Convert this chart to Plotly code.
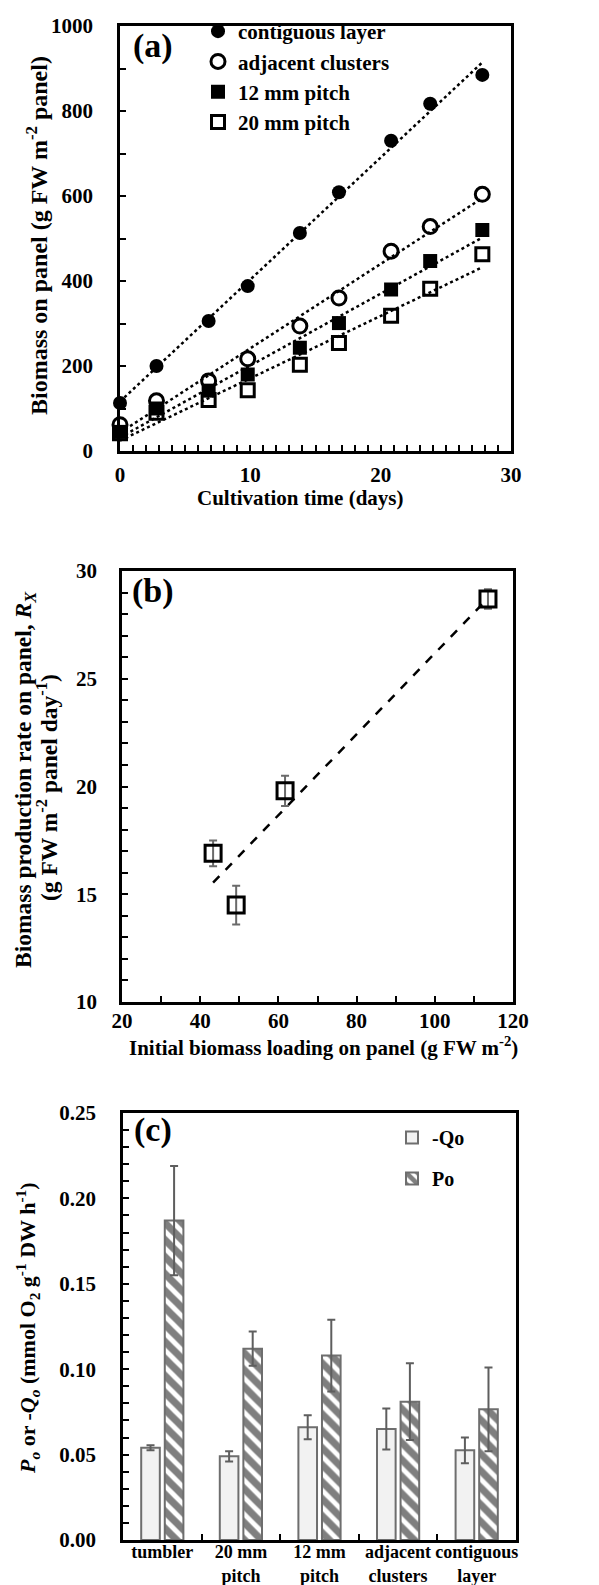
import numpy as np
import plotly.graph_objects as go

# ---------------- data ----------------
# (a) biomass on panel vs cultivation time
days = [0, 2.8, 6.8, 9.8, 13.8, 16.8, 20.8, 23.8, 27.8]
contiguous = [113, 200, 306, 388, 513, 609, 730, 817, 885]
adjacent = [62, 118, 165, 217, 294, 360, 470, 528, 604]
pitch12 = [45, 100, 142, 180, 243, 301, 380, 447, 520]
pitch20 = [42, 90, 120, 143, 203, 254, 318, 382, 463]
series_names = ["contiguous layer", "adjacent clusters", "12 mm pitch", "20 mm pitch"]

# (b) production rate vs initial loading
loading = [43.3, 49.2, 61.7, 113.6]
rate = [16.9, 14.5, 19.8, 28.7]
rate_err = [0.6, 0.9, 0.7, 0.45]

# (c) Po / -Qo bars
cats = ["tumbler", "20 mm<br>pitch", "12 mm<br>pitch", "adjacent<br>clusters", "contiguous<br>layer"]
qo = [0.054, 0.049, 0.066, 0.065, 0.0525]
qo_err = [0.0015, 0.003, 0.007, 0.012, 0.0075]
po = [0.187, 0.112, 0.108, 0.081, 0.0765]
po_err = [0.032, 0.010, 0.021, 0.0225, 0.0245]

W, H = 599, 1585
FONT = "Liberation Serif"

def px_x(a, b):
    return [a / W, b / W]

def px_y(top, bottom):
    return [1 - bottom / H, 1 - top / H]

def f(size):
    return dict(family=FONT, size=size, color="black", weight="bold")

fig = go.Figure()

# ---------------- panel (a) ----------------
styles = [
    dict(symbol="circle", size=14, color="black", line=dict(width=0)),
    dict(symbol="circle-open", size=14, color="black", line=dict(width=3)),
    dict(symbol="square", size=14, color="black", line=dict(width=0)),
    dict(symbol="square-open", size=13, color="black", line=dict(width=3)),
]
all_series = [contiguous, adjacent, pitch12, pitch20]
for name, ys, st in zip(series_names, all_series, styles):
    k, b0 = np.polyfit(days, ys, 1)
    xf = np.array([min(days), max(days)])
    fig.add_trace(go.Scatter(x=xf, y=k * xf + b0, mode="lines",
                             line=dict(color="black", width=2.5, dash="dot"),
                             showlegend=False, xaxis="x", yaxis="y", hoverinfo="skip"))
for name, ys, st in zip(series_names, all_series, styles):
    fig.add_trace(go.Scatter(x=days, y=ys, mode="markers", name=name, marker=st,
                             cliponaxis=False, xaxis="x", yaxis="y",
                             legend="legend", legendgroup=name))

# ---------------- panel (b) ----------------
kb, bb = np.polyfit(loading, rate, 1)
xb = np.array([min(loading), max(loading)])
fig.add_trace(go.Scatter(x=xb, y=kb * xb + bb, mode="lines",
                         line=dict(color="black", width=2.5, dash="dash"),
                         showlegend=False, xaxis="x2", yaxis="y2"))
fig.add_trace(go.Scatter(x=loading, y=rate, mode="markers",
                         marker=dict(symbol="square-open", size=16, color="black", line=dict(width=3)),
                         error_y=dict(type="data", array=rate_err, color="#6a6a6a", thickness=2, width=4),
                         showlegend=False, cliponaxis=False, xaxis="x2", yaxis="y2"))

# ---------------- panel (c) ----------------
fig.add_trace(go.Bar(x=cats, y=qo, name="-Qo",
                     marker=dict(color="#f2f2f2", line=dict(color="#6e6e6e", width=2)),
                     error_y=dict(type="data", array=qo_err, color="#5e5e5e", thickness=2, width=4),
                     xaxis="x3", yaxis="y3", legend="legend2", legendgroup="q"))
fig.add_trace(go.Bar(x=cats, y=po, name="Po",
                     marker=dict(color="white", line=dict(color="#6e6e6e", width=2),
                                 pattern=dict(shape="\\", fgcolor="black", bgcolor="white",
                                              size=12, solidity=0.6)),
                     error_y=dict(type="data", array=po_err, color="#5e5e5e", thickness=2, width=4),
                     xaxis="x3", yaxis="y3", legend="legend2", legendgroup="p"))

axis_common = dict(showline=True, linecolor="black", linewidth=2.5, mirror=True,
                   ticks="inside", ticklen=6, tickwidth=2, tickcolor="black",
                   showgrid=False, zeroline=False, automargin=False,
                   tickfont=f(21))

def minor(d):
    return dict(ticks="inside", ticklen=6, tickwidth=2, tickcolor="black", dtick=d, showgrid=False)

fig.update_layout(
    width=W, height=H,
    margin=dict(l=0, r=0, t=0, b=0),
    paper_bgcolor="white", plot_bgcolor="white",
    font=f(20),
    bargap=0.40, bargroupgap=0.21, barmode="group",
    xaxis=dict(axis_common, domain=px_x(112, 503), anchor="y", range=[0, 30], dtick=10,
               minor=minor(1), ticklabelstandoff=3),
    yaxis=dict(axis_common, domain=px_y(18, 443), anchor="x", range=[0, 1000], dtick=200,
               minor=minor(100), ticklabelstandoff=20),
    xaxis2=dict(axis_common, domain=px_x(114, 505), anchor="y2", range=[20, 120], dtick=20,
                minor=minor(10), ticklabelstandoff=-2),
    yaxis2=dict(axis_common, domain=px_y(563, 994), anchor="x2", range=[10, 30], dtick=5,
                minor=minor(1), ticklabelstandoff=18),
    xaxis3=dict(axis_common, domain=px_x(115, 508), anchor="y3", tickson="boundaries",
                ticklabelstandoff=-6, tickangle=0, tickfont=f(18)),
    yaxis3=dict(axis_common, domain=px_y(1105, 1532), anchor="x3", range=[0, 0.25], dtick=0.05,
                tickformat=".2f", minor=minor(0.01), ticklabelstandoff=20),
    legend=dict(x=190 / W, y=1 - 3 / H, xanchor="left", yanchor="top",
                bgcolor="rgba(0,0,0,0)", tracegroupgap=0, font=f(21)),
    legend2=dict(x=384 / W, y=1 - 1110 / H, xanchor="left", yanchor="top",
                 bgcolor="rgba(0,0,0,0)", tracegroupgap=12, font=f(20)),
)

texts = [
    dict(text="Biomass on panel (g FW m<sup>-2</sup> panel)", x=29, y=228, textangle=-90, size=24),
    dict(text="Cultivation time (days)", x=292, y=490, size=21),
    dict(text="Biomass production rate on panel, <i>R<sub>X</sub></i>", x=17, y=772, textangle=-90, size=23.5),
    dict(text="(g FW m<sup>-2</sup> panel day<sup>-1</sup>)", x=39, y=780, textangle=-90, size=23.5),
    dict(text="Initial biomass loading on panel (g FW m<sup>-2</sup>)", x=315, y=1038, size=21),
    dict(text="<i>P<sub>o</sub></i> or -<i>Q<sub>o</sub></i> (mmol O<sub>2</sub> g<sup>-1</sup> DW h<sup>-1</sup>)",
         x=19, y=1320, textangle=-90, size=22),
    dict(text="(a)", x=145, y=38, size=34),
    dict(text="(b)", x=145, y=583, size=34),
    dict(text="(c)", x=145, y=1122, size=34),
]
for t in texts:
    fig.add_annotation(xref="paper", yref="paper", showarrow=False, text=t["text"],
                       x=t["x"] / W, y=1 - t["y"] / H, xanchor="center", yanchor="middle",
                       textangle=t.get("textangle", 0), font=f(t["size"]))

fig.write_html("out.html")
